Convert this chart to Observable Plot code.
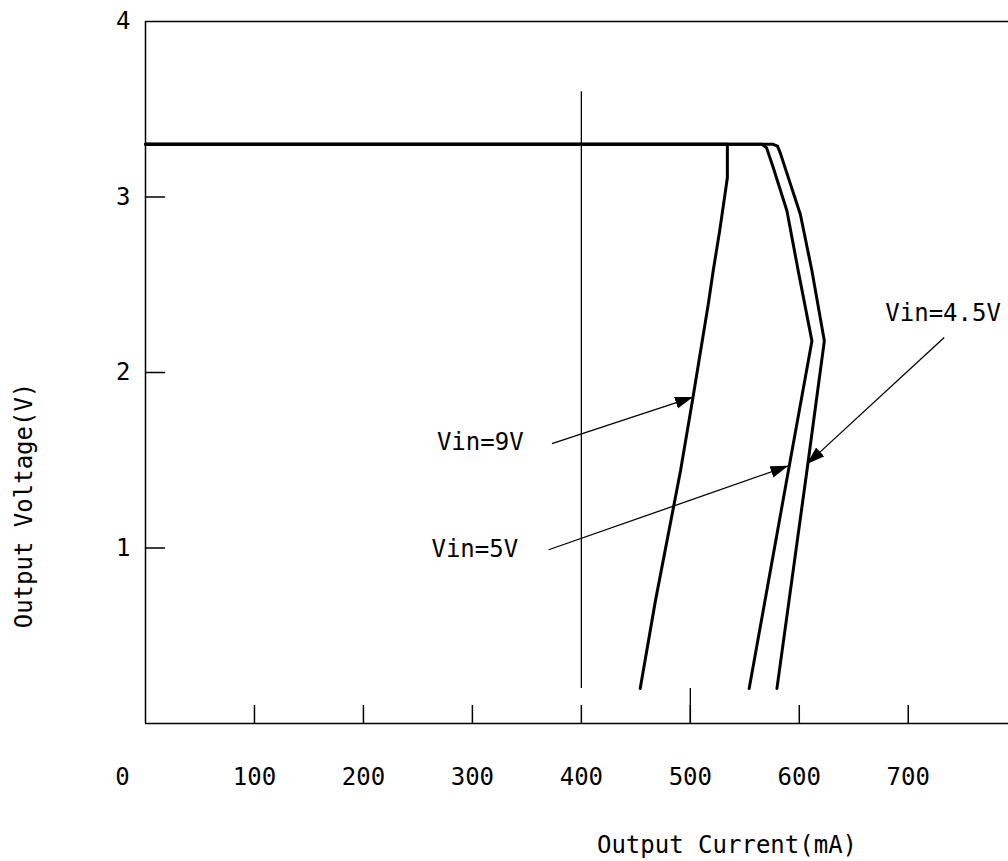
<!DOCTYPE html>
<html>
<head>
<meta charset="utf-8">
<script src="https://cdn.jsdelivr.net/npm/d3@7"></script>
<script src="https://cdn.jsdelivr.net/npm/@observablehq/plot@0.6"></script>
<style>
  html, body { margin: 0; padding: 0; background: #fff; overflow: hidden; }
</style>
</head>
<body>
<div id="chart"></div>
<script>
// ---- data ----
const xTicks = [100, 200, 300, 400, 500, 600, 700];
const xOrigin = [0];
const yTicks = [1, 2, 3];
const yTickLabels = [1, 2, 3, 4];

// Output current (mA) vs output voltage (V)
const vin9 = [
  [0, 3.3], [534, 3.3], [534, 3.11], [527, 2.81], [521, 2.58], [516.5, 2.39],
  [502.5, 1.86], [491, 1.44], [468, 0.70], [454, 0.2]
];
const vin5 = [
  [0, 3.3], [566, 3.3], [570, 3.28], [576, 3.17], [588.7, 2.92], [599, 2.58],
  [611.6, 2.18], [590, 1.44], [554, 0.2]
];
const vin45 = [
  [0, 3.3], [576, 3.3], [580, 3.29], [582.6, 3.25], [601, 2.9], [611.6, 2.58],
  [623, 2.18], [607, 1.44], [579.5, 0.2]
];

// guide lines drawn on the original sheet
const guides = [
  { x: 400, y1: 0.2, y2: 3.6 },
  { x: 500, y1: 0, y2: 0.2 }
];

// annotation arrows: start (label side) -> tip on curve
const arrows = [
  { x1: 373, y1: 1.595, x2: 502.5, y2: 1.86 },
  { x1: 370, y1: 0.99, x2: 590, y2: 1.468 },
  { x1: 733, y1: 2.2, x2: 607, y2: 1.478 }
];
const labels = [
  { x: 347, y: 1.6, text: "Vin=9V" },
  { x: 342, y: 0.995, text: "Vin=5V" },
  { x: 785, y: 2.34, text: "Vin=4.5V" }
];

const xTitle = ["Output Current(mA)"];
const yTitle = ["Output Voltage(V)"];

// filled triangular arrow head
function filledArrow(color, context) {
  const ns = "http://www.w3.org/2000/svg";
  const doc = (context && context.document) || document;
  const m = doc.createElementNS(ns, "marker");
  m.setAttribute("viewBox", "-18 -7 18 14");
  m.setAttribute("markerWidth", 18);
  m.setAttribute("markerHeight", 14);
  m.setAttribute("markerUnits", "userSpaceOnUse");
  m.setAttribute("refX", 0);
  m.setAttribute("refY", 0);
  m.setAttribute("orient", "auto");
  const p = doc.createElementNS(ns, "path");
  p.setAttribute("d", "M0,0L-18,-6L-18,6Z");
  p.setAttribute("fill", "black");
  p.setAttribute("stroke", "none");
  m.appendChild(p);
  return m;
}

// straight tick segment for inward y ticks
const tickShape = { draw(context, l) { context.moveTo(0, 0); context.lineTo(0, -l); } };

const curveStyle = { x: d => d[0], y: d => d[1], stroke: "black", strokeWidth: 3, strokeLinejoin: "round", strokeLinecap: "round" };

const chart = Plot.plot({
  width: 1008,
  height: 861,
  marginLeft: 145,
  marginRight: 0,
  marginTop: 21,
  marginBottom: 138,
  x: { domain: [0, 792] },
  y: { domain: [0, 4] },
  style: { fontFamily: "'DejaVu Sans Mono', monospace", fontSize: "24px", color: "black", background: "white" },
  marks: [
    // frame lines (top, left, bottom)
    Plot.ruleY([4, 0], { stroke: "black", strokeWidth: 1.5 }),
    Plot.ruleX([0], { stroke: "black", strokeWidth: 1.5 }),
    // inward tick marks
    Plot.axisX(xTicks, { tickSize: -18, tickFormat: () => "", label: null, strokeWidth: 1.5 }),
    Plot.vector(yTicks, { y: d => d, frameAnchor: "left", rotate: 90, length: 19, anchor: "start", shape: tickShape, stroke: "black", strokeWidth: 1.5 }),
    // tick labels
    Plot.axisX(xTicks, { tickSize: 0, tickPadding: 44, label: null, tickFormat: d => String(d) }),
    Plot.text(xOrigin, { x: d => d, frameAnchor: "bottom", textAnchor: "middle", lineAnchor: "top", dy: 44, dx: -23, text: d => String(d), fill: "black" }),
    Plot.axisY(yTickLabels, { tickSize: 0, tickPadding: 15, label: null, tickFormat: d => String(d) }),
    // guides
    Plot.ruleX(guides, { x: "x", y1: "y1", y2: "y2", stroke: "black", strokeWidth: 1.3 }),
    // curves
    Plot.line(vin9, curveStyle),
    Plot.line(vin5, curveStyle),
    Plot.line(vin45, curveStyle),
    // annotations
    Plot.link(arrows, { x1: "x1", y1: "y1", x2: "x2", y2: "y2", stroke: "black", strokeWidth: 1.3, markerEnd: filledArrow }),
    Plot.text(labels, { x: "x", y: "y", text: "text", textAnchor: "end", fill: "black" }),
    // titles
    Plot.text(xTitle, { frameAnchor: "bottom", textAnchor: "middle", lineAnchor: "middle", dx: 150, dy: 122, text: d => d, fill: "black" }),
    Plot.text(yTitle, { frameAnchor: "left", textAnchor: "middle", lineAnchor: "middle", rotate: -90, dx: -121, dy: 133, text: d => d, fill: "black" })
  ]
});
document.getElementById("chart").appendChild(chart);
</script>
</body>
</html>
